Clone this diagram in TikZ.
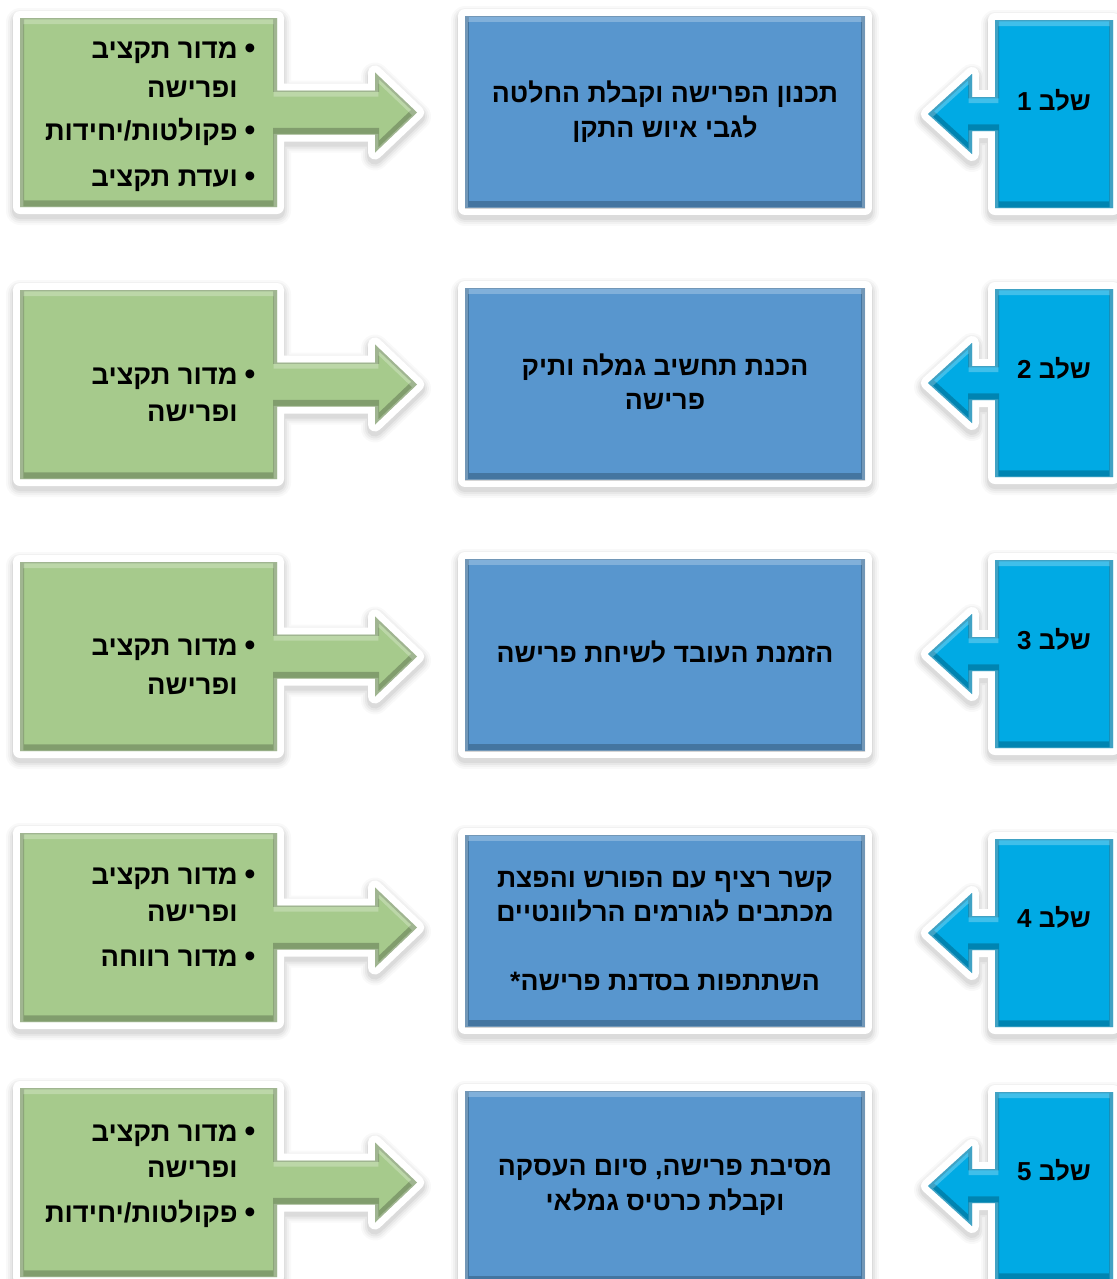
\documentclass[tikz,border=0pt]{standalone}
\usepackage{fontspec}
\newfontfamily\heb[Script=Hebrew]{Liberation Sans}
\TeXXeTstate=1
\definecolor{gfill}{RGB}{166,202,140}
\definecolor{bfill}{RGB}{88,150,206}
\definecolor{cfill}{RGB}{0,170,228}
\newcommand\fancyshape[2]{%
  \foreach \w/\o in {28/0.025,24/0.03,20/0.04,16/0.05}{\draw[line width=\w*0.75pt, black, opacity=\o, line join=round, yshift=-3pt] #1;}
  \draw[white, line width=10.5pt, line join=round] #1;
  \fill[#2] #1;
  \begin{scope}
    \clip #1;
    \draw[black, opacity=0.22, line width=6pt, yshift=2pt] #1;
    \draw[white, opacity=0.25, line width=5pt, yshift=-2pt] #1;
  \end{scope}
}
\tikzset{
  txt/.style={inner sep=0pt, font=\heb\bfseries\fontsize{20}{24}\selectfont, text=black, text height=13.5pt, text depth=0pt},
  gtxt/.style={txt, font=\heb\bfseries\fontsize{20.5}{24}\selectfont, anchor=east},
  btxt/.style={txt},
  stxt/.style={txt, font=\heb\bfseries\fontsize{19.5}{24}\selectfont},
  bul/.style={txt, font=\heb\bfseries\fontsize{23}{24}\selectfont, anchor=center}
}
\begin{document}
\begin{tikzpicture}[x=0.75pt,y=-0.75pt]
\useasboundingbox (0,0) rectangle (1117,1279);
\fill[white] (0,0) rectangle (1117,1279);
\foreach \gt/\bt/\ct in {18/16/20, 290/288/289, 562/559/560, 833/835/839, 1088/1091/1092}{
  \pgfmathsetmacro\gc{\gt+94.5}
  \pgfmathsetmacro\cc{\ct+94}
  \fancyshape{(20,\gt) -- (277,\gt) -- (277,\gc-22) -- (375,\gc-22) -- (375,\gc-40) -- (417,\gc) -- (375,\gc+40) -- (375,\gc+22) -- (277,\gc+22) -- (277,\gt+189) -- (20,\gt+189) -- cycle}{gfill}
  \fancyshape{(465,\bt) rectangle (865,\bt+192)}{bfill}
  \fancyshape{(995,\ct) -- (1113,\ct) -- (1113,\ct+188) -- (995,\ct+188) -- (995,\cc+17) -- (972,\cc+17) -- (972,\cc+40) -- (928,\cc) -- (972,\cc-40) -- (972,\cc-17) -- (995,\cc-17) -- cycle}{cfill}
}
% row 1
\node[gtxt] (g1a) at (238,49) {\beginR מדור תקציב\endR};
\node[bul] (p1a) at (250,49) {•};
\node[gtxt] (g1b) at (238,88) {\beginR ופרישה\endR};
\node[gtxt] (g1c) at (238,131) {\beginR פקולטות{/}יחידות\endR};
\node[bul] (p1c) at (250,131) {•};
\node[gtxt] (g1d) at (238,177) {\beginR ועדת תקציב\endR};
\node[bul] (p1d) at (250,177) {•};
\node[btxt] (b1a) at (665,93) {\beginR תכנון הפרישה וקבלת החלטה\endR};
\node[btxt] (b1b) at (665,128) {\beginR לגבי איוש התקן\endR};
\node[stxt] (s1) at (1054,101) {\beginR שלב 1\endR};
% row 2
\node[gtxt] (g2a) at (238,375) {\beginR מדור תקציב\endR};
\node[bul] (p2a) at (250,375) {•};
\node[gtxt] (g2b) at (238,412) {\beginR ופרישה\endR};
\node[btxt] (b2a) at (665,366) {\beginR הכנת תחשיב גמלה ותיק\endR};
\node[btxt] (b2b) at (665,400) {\beginR פרישה\endR};
\node[stxt] (s2) at (1054,369) {\beginR שלב 2\endR};
% row 3
\node[gtxt] (g3a) at (238,646) {\beginR מדור תקציב\endR};
\node[bul] (p3a) at (250,646) {•};
\node[gtxt] (g3b) at (238,685) {\beginR ופרישה\endR};
\node[btxt] (b3a) at (665,653) {\beginR הזמנת העובד לשיחת פרישה\endR};
\node[stxt] (s3) at (1054,640) {\beginR שלב 3\endR};
% row 4
\node[gtxt] (g4a) at (238,875) {\beginR מדור תקציב\endR};
\node[bul] (p4a) at (250,875) {•};
\node[gtxt] (g4b) at (238,912) {\beginR ופרישה\endR};
\node[gtxt] (g4c) at (238,957) {\beginR מדור רווחה\endR};
\node[bul] (p4c) at (250,957) {•};
\node[btxt] (b4a) at (665,878) {\beginR קשר רציף עם הפורש והפצת\endR};
\node[btxt] (b4b) at (665,912) {\beginR מכתבים לגורמים הרלוונטיים\endR};
\node[btxt] (b4c) at (665,981) {\beginR השתתפות בסדנת פרישה{*}\endR};
\node[stxt] (s4) at (1054,918) {\beginR שלב 4\endR};
% row 5
\node[gtxt] (g5a) at (238,1132) {\beginR מדור תקציב\endR};
\node[bul] (p5a) at (250,1132) {•};
\node[gtxt] (g5b) at (238,1168) {\beginR ופרישה\endR};
\node[gtxt] (g5c) at (238,1213) {\beginR פקולטות{/}יחידות\endR};
\node[bul] (p5c) at (250,1213) {•};
\node[btxt] (b5a) at (665,1166) {\beginR מסיבת פרישה{,} סיום העסקה\endR};
\node[btxt] (b5b) at (665,1201) {\beginR וקבלת כרטיס גמלאי\endR};
\node[stxt] (s5) at (1054,1171) {\beginR שלב 5\endR};
\end{tikzpicture}
\end{document}
